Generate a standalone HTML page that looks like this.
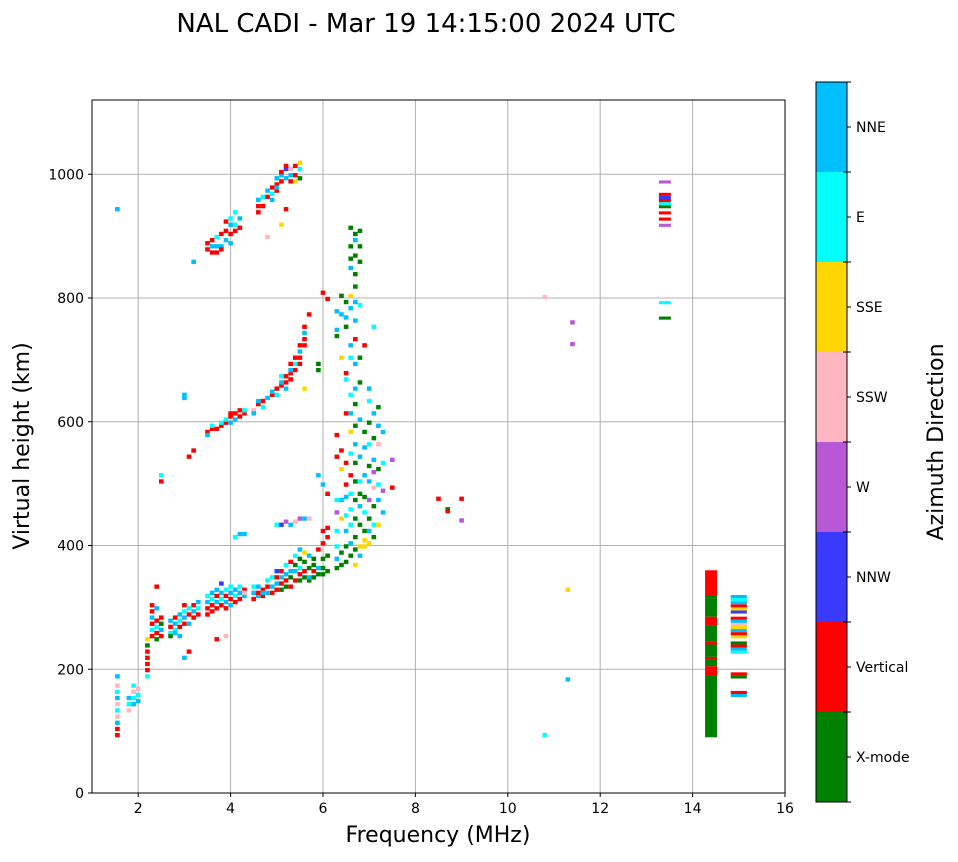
<!DOCTYPE html>
<html><head><meta charset="utf-8"><style>
body{margin:0;background:#fff;}
svg text{font-family:"DejaVu Sans","Liberation Sans",sans-serif;fill:#000;}
</style></head><body>
<svg id="chart" width="958" height="857" viewBox="0 0 958 857" xmlns="http://www.w3.org/2000/svg">
<text x="426" y="32" font-size="26" text-anchor="middle">NAL CADI - Mar 19 14:15:00 2024 UTC</text>
<g id="grid"></g>
<g id="marks"></g>
<rect x="92" y="100" width="693" height="693" fill="none" stroke="#000" stroke-width="1"/>
<g id="axes"></g>
<text x="438" y="842" font-size="22" text-anchor="middle">Frequency (MHz)</text>
<text transform="translate(29,446) rotate(-90)" font-size="22" text-anchor="middle">Virtual height (km)</text>
<g id="cbar"></g>
<text transform="translate(943,442) rotate(-90)" font-size="22" text-anchor="middle">Azimuth Direction</text>
</svg>
<script>
const dirNames=["X-mode","Vertical","NNW","W","SSW","SSE","E","NNE"];
const dirColors=["#008000","#ff0000","#3a3aff","#b759d6","#ffb6c1","#ffd700","#00ffff","#00bfff"];
const xTicks=[2,4,6,8,10,12,14,16];
const yTicks=[0,200,400,600,800,1000];
const freqs=[
1.55,1.55,1.55,1.55,1.55,1.55,1.55,1.55,1.55,1.55,1.55,
1.8,1.8,1.8,1.9,1.9,1.9,1.9,2.0,2.0,2.0,
2.2,2.2,2.2,2.2,2.2,2.2,2.2,
2.3,2.3,2.3,2.3,2.3,2.3,
2.4,2.4,2.4,2.4,2.4,2.4,2.5,2.5,2.5,2.5,2.5,2.5,
2.7,2.7,2.7,2.7,2.8,2.8,2.8,2.8,
2.9,2.9,2.9,2.9,3.0,3.0,3.0,3.0,3.0,3.0,3.0,
3.1,3.1,3.1,3.1,3.1,3.2,3.2,3.2,3.2,3.2,
3.3,3.3,3.3,3.5,3.5,3.5,3.5,3.5,3.5,3.5,3.5,
3.6,3.6,3.6,3.6,3.6,3.6,3.6,3.6,3.6,
3.7,3.7,3.7,3.7,3.7,3.7,3.7,3.7,3.7,
3.8,3.8,3.8,3.8,3.8,3.8,3.8,3.8,3.8,
3.9,3.9,3.9,3.9,3.9,3.9,3.9,3.9,3.9,3.9,
4.0,4.0,4.0,4.0,4.0,4.0,4.0,4.0,4.0,4.0,4.0,
4.1,4.1,4.1,4.1,4.1,4.1,4.1,4.1,4.1,
4.2,4.2,4.2,4.2,4.2,4.2,4.2,4.2,
4.3,4.3,4.3,4.3,4.3,4.3,
4.5,4.5,4.5,4.5,4.5,
4.6,4.6,4.6,4.6,4.6,4.6,4.6,4.6,
4.7,4.7,4.7,4.7,4.7,4.7,4.7,
4.8,4.8,4.8,4.8,4.8,4.8,4.8,
4.9,4.9,4.9,4.9,4.9,4.9,4.9,4.9,
5.0,5.0,5.0,5.0,5.0,5.0,5.0,5.0,5.0,5.0,5.0,
5.1,5.1,5.1,5.1,5.1,5.1,5.1,5.1,5.1,5.1,5.1,5.1,
5.2,5.2,5.2,5.2,5.2,5.2,5.2,5.2,5.2,5.2,5.2,5.2,
5.3,5.3,5.3,5.3,5.3,5.3,5.3,5.3,5.3,5.3,5.3,5.3,
5.4,5.4,5.4,5.4,5.4,5.4,5.4,5.4,5.4,5.4,5.4,
5.5,5.5,5.5,5.5,5.5,5.5,5.5,5.5,5.5,5.5,5.5,5.5,5.5,
5.6,5.6,5.6,5.6,5.6,5.6,5.6,5.6,5.6,5.6,
5.7,5.7,5.7,5.7,5.7,5.7,
5.8,5.8,5.8,5.8,
5.9,5.9,5.9,5.9,5.9,5.9,
6.0,6.0,6.0,6.0,6.0,6.0,6.0,
6.1,6.1,6.1,6.1,6.1,6.1,
6.3,6.3,6.3,6.3,6.3,6.3,6.3,6.3,6.3,6.3,6.3,
6.4,6.4,6.4,6.4,6.4,6.4,6.4,6.4,6.4,
6.5,6.5,6.5,6.5,6.5,6.5,6.5,6.5,6.5,6.5,6.5,6.5,6.5,
6.6,6.6,6.6,6.6,6.6,6.6,6.6,6.6,6.6,6.6,6.6,6.6,6.6,6.6,6.6,6.6,6.6,6.6,
6.7,6.7,6.7,6.7,6.7,6.7,6.7,6.7,6.7,6.7,6.7,6.7,6.7,6.7,6.7,6.7,6.7,6.7,6.7,6.7,
6.8,6.8,6.8,6.8,6.8,6.8,6.8,6.8,6.8,6.8,6.8,6.8,6.8,6.8,
6.9,6.9,6.9,6.9,6.9,6.9,6.9,6.9,6.9,
7.0,7.0,7.0,7.0,7.0,7.0,7.0,7.0,7.0,7.0,
7.1,7.1,7.1,7.1,7.1,7.1,7.1,7.1,7.1,
7.2,7.2,7.2,7.2,7.2,7.2,7.2,
7.3,7.3,7.3,7.3,7.5,7.5,
8.5,8.7,8.7,9.0,9.0,10.8,10.8,11.3,11.3,11.4,11.4,
13.4,13.4,13.4,13.4,13.4,13.4,13.4,13.4,13.4,13.4,13.4,
14.4,14.4,14.4,14.4,14.4,14.4,14.4,14.4,14.4,14.4,14.4,14.4,
15.0,15.0,15.0,15.0,15.0,15.0,15.0,15.0,15.0,15.0,15.0,15.0,15.0,15.0,15.0,15.0,15.0,15.0,15.0,15.0,15.0
];
const heights=[
90,100,110,120,130,140,150,160,170,185,940,
130,140,150,140,150,160,170,145,155,165,
185,195,205,215,225,235,245,
250,260,270,280,290,300,
255,265,275,295,330,245,250,260,270,280,510,500,
255,265,275,250,260,270,280,255,
265,275,285,250,270,280,290,300,215,640,635,
270,285,295,225,540,280,290,300,550,855,
285,295,305,285,295,305,315,580,575,885,875,
290,300,310,320,585,590,880,890,870,
295,305,315,325,245,585,880,895,870,
300,310,320,335,590,595,900,880,875,
295,305,315,325,250,595,600,905,890,920,
300,310,320,330,605,610,595,900,915,925,885,
305,315,325,410,600,610,905,915,935,
310,320,330,415,605,615,910,925,
315,325,320,415,610,615,
310,320,330,615,610,
315,320,330,625,630,945,935,955,
315,325,320,630,620,945,960,
320,330,340,635,960,970,895,
320,330,345,640,645,975,965,955,
325,335,345,355,430,650,640,980,990,970,975,
325,335,345,355,430,655,660,670,985,995,1000,915,
330,340,350,365,435,660,670,650,1005,1010,990,940,
330,345,355,370,430,665,675,680,690,995,1005,985,
340,355,365,380,435,680,690,700,995,985,1010,
340,350,360,375,390,440,690,700,710,720,990,1005,1015,
345,355,370,385,440,720,730,740,750,650,
340,360,345,380,440,770,
345,355,365,375,
350,360,390,510,690,680,
350,360,375,400,420,495,805,
355,380,410,425,480,795,
360,375,395,420,450,470,540,575,735,745,775,
365,385,440,470,550,520,700,770,800,
370,395,420,445,475,495,530,610,665,675,750,765,790,
380,400,430,455,480,510,545,580,610,640,700,720,780,800,845,860,880,910,
365,390,410,440,470,500,530,560,590,625,650,690,730,760,790,815,835,865,890,900,
380,395,430,460,480,500,540,600,660,700,785,855,880,905,
395,405,420,450,475,510,555,580,720,
400,420,440,470,500,525,560,595,630,650,
410,430,460,490,515,535,570,610,750,
430,470,495,520,560,590,620,
450,485,530,580,535,490,
472,455,452,472,437,90,798,325,180,757,722,
915,925,935,945,950,955,960,965,985,790,765,
90,190,200,205,215,220,240,245,270,285,315,320,
155,160,185,190,225,230,235,240,250,255,260,265,270,275,280,290,295,300,305,310,315
];
const dirs=[
1,1,7,4,6,4,7,6,4,7,7,
4,6,7,7,6,4,6,7,6,4,
6,1,1,1,1,0,5,
1,6,1,7,1,1,
1,6,1,7,1,0,1,7,0,1,6,1,
6,1,7,0,6,7,1,7,
1,6,7,7,1,7,6,1,7,7,7,
7,1,6,1,1,1,7,1,1,7,
1,6,7,1,1,7,6,1,7,1,1,
1,1,6,7,1,6,7,1,1,
1,7,1,7,1,1,7,6,1,
1,6,7,2,1,6,1,7,1,
1,7,1,6,4,1,6,1,7,1,
7,1,7,6,1,1,7,1,7,6,7,
1,6,7,6,7,1,1,6,6,
1,7,6,7,1,1,1,7,
7,1,4,7,1,6,
1,7,6,4,7,
7,1,7,1,7,1,1,7,
1,1,7,1,6,1,6,
7,1,6,7,1,7,4,
1,7,6,1,7,1,6,7,
1,7,1,2,6,1,6,1,7,1,7,
0,1,7,1,2,1,7,6,1,7,1,5,
0,1,7,6,3,1,1,7,2,1,7,1,
1,0,7,1,7,1,1,7,1,7,4,1,
1,7,0,6,4,1,6,1,1,5,1,
0,1,6,0,7,3,1,1,7,1,0,6,5,
0,1,0,5,7,1,1,7,1,5,
0,0,7,7,4,1,
0,1,0,0,
0,7,1,7,0,0,
0,0,0,1,1,7,1,
0,0,1,1,1,1,
0,7,6,6,3,6,1,1,0,7,7,
0,0,5,7,1,5,5,7,0,
0,0,7,6,7,1,1,1,6,1,0,7,0,
0,7,6,6,6,1,6,5,7,6,6,7,7,5,7,0,0,0,
5,0,0,0,0,0,0,7,0,0,7,7,1,7,7,0,0,0,7,0,
7,5,0,7,0,6,7,7,0,0,6,0,0,0,
5,5,0,6,0,7,7,0,1,
5,7,0,3,7,0,6,0,6,7,
0,6,0,4,3,7,0,7,6,
5,7,6,0,4,7,0,
7,3,6,7,3,1,
1,0,1,1,3,6,4,5,7,3,3,
3,1,1,0,6,1,2,1,3,6,0,
0,1,1,0,1,0,1,0,1,0,0,1,
7,1,0,1,6,7,1,0,5,1,7,5,4,7,1,2,5,1,7,6,7
];
const spans=[];
for(let i=0;i<freqs.length;i++){spans.push(7);}
const bar14Spans=[100,10,5,10,5,20,5,25,15,30,5,40];
const x0=92,x1=785,y0=793,y1=100,fMin=1,fMax=16,hMin=0,hMax=1120;
function xs(f){return x0+(f-fMin)/(fMax-fMin)*(x1-x0);}
function ys(h){return y0-(h-hMin)/(hMax-hMin)*(y0-y1);}
const NS="http://www.w3.org/2000/svg";
function mk(tag,attrs,parent){const e=document.createElementNS(NS,tag);for(const k in attrs)e.setAttribute(k,attrs[k]);parent.appendChild(e);return e;}
const grid=document.getElementById('grid'),axes=document.getElementById('axes'),marks=document.getElementById('marks'),cbar=document.getElementById('cbar');
xTicks.forEach(t=>{
 const x=xs(t);
 if(t<fMax){const l=mk('line',{x1:x,x2:x,y1:y1,y2:y0,stroke:'#b0b0b0','stroke-width':1},grid);
 
 }
 const tk=mk('line',{x1:x,x2:x,y1:y0,y2:y0+4,stroke:'#000'},axes);
 
 
 const tx=mk('text',{x:x,y:y0+20,'font-size':14,'text-anchor':'middle'},axes);tx.textContent=t;
 
 
});
yTicks.forEach(t=>{
 const y=ys(t);
 if(t>hMin){const l=mk('line',{x1:x0,x2:x1,y1:y,y2:y,stroke:'#b0b0b0','stroke-width':1},grid);
 
 }
 const tk=mk('line',{x1:x0-4,x2:x0,y1:y,y2:y,stroke:'#000'},axes);
 
 
 const tx=mk('text',{x:x0-8,y:y+5,'font-size':14,'text-anchor':'end'},axes);tx.textContent=t;
 
 
});
let barIdx=0;
for(let i=0;i<freqs.length;i++){
 const f=freqs[i];
 let span=spans[i];
 if(f===14.4){span=bar14Spans[barIdx++];}
 else if(f>13){span=5;}
 const w=f>14.8?0.35:(f>13?0.26:0.1);
 const xa=xs(f-w/2),xb=xs(f+w/2);
 const ya=ys(heights[i]+span),yb=ys(heights[i]);
 const r=mk('rect',{x:xa,y:ya,width:xb-xa,height:yb-ya,fill:dirColors[dirs[i]]},marks);
 
 
}
const cbX=816,cbW=31,cbTop=82,cbBot=802,seg=(cbBot-cbTop)/dirNames.length;
dirNames.forEach((n,i)=>{
 const yTop=cbBot-(i+1)*seg;
 const r=mk('rect',{x:cbX,y:yTop,width:cbW,height:seg,fill:dirColors[i]},cbar);
 
 
 const tk=mk('line',{x1:cbX+cbW,x2:cbX+cbW+4,y1:yTop+seg/2,y2:yTop+seg/2,stroke:'#000'},cbar);
 
 
 const tx=mk('text',{x:cbX+cbW+9,y:yTop+seg/2+5,'font-size':14},cbar);tx.textContent=n;
 
 
});
for(let i=0;i<=dirNames.length;i++){
 const y=cbBot-i*seg;
 const m=mk('line',{x1:cbX+cbW-4,x2:cbX+cbW+4,y1:y,y2:y,stroke:'#000'},cbar);
 
 
}
const fr=mk('rect',{x:cbX,y:cbTop,width:cbW,height:cbBot-cbTop,fill:'none',stroke:'#000'},cbar);


</script>
</body></html>
